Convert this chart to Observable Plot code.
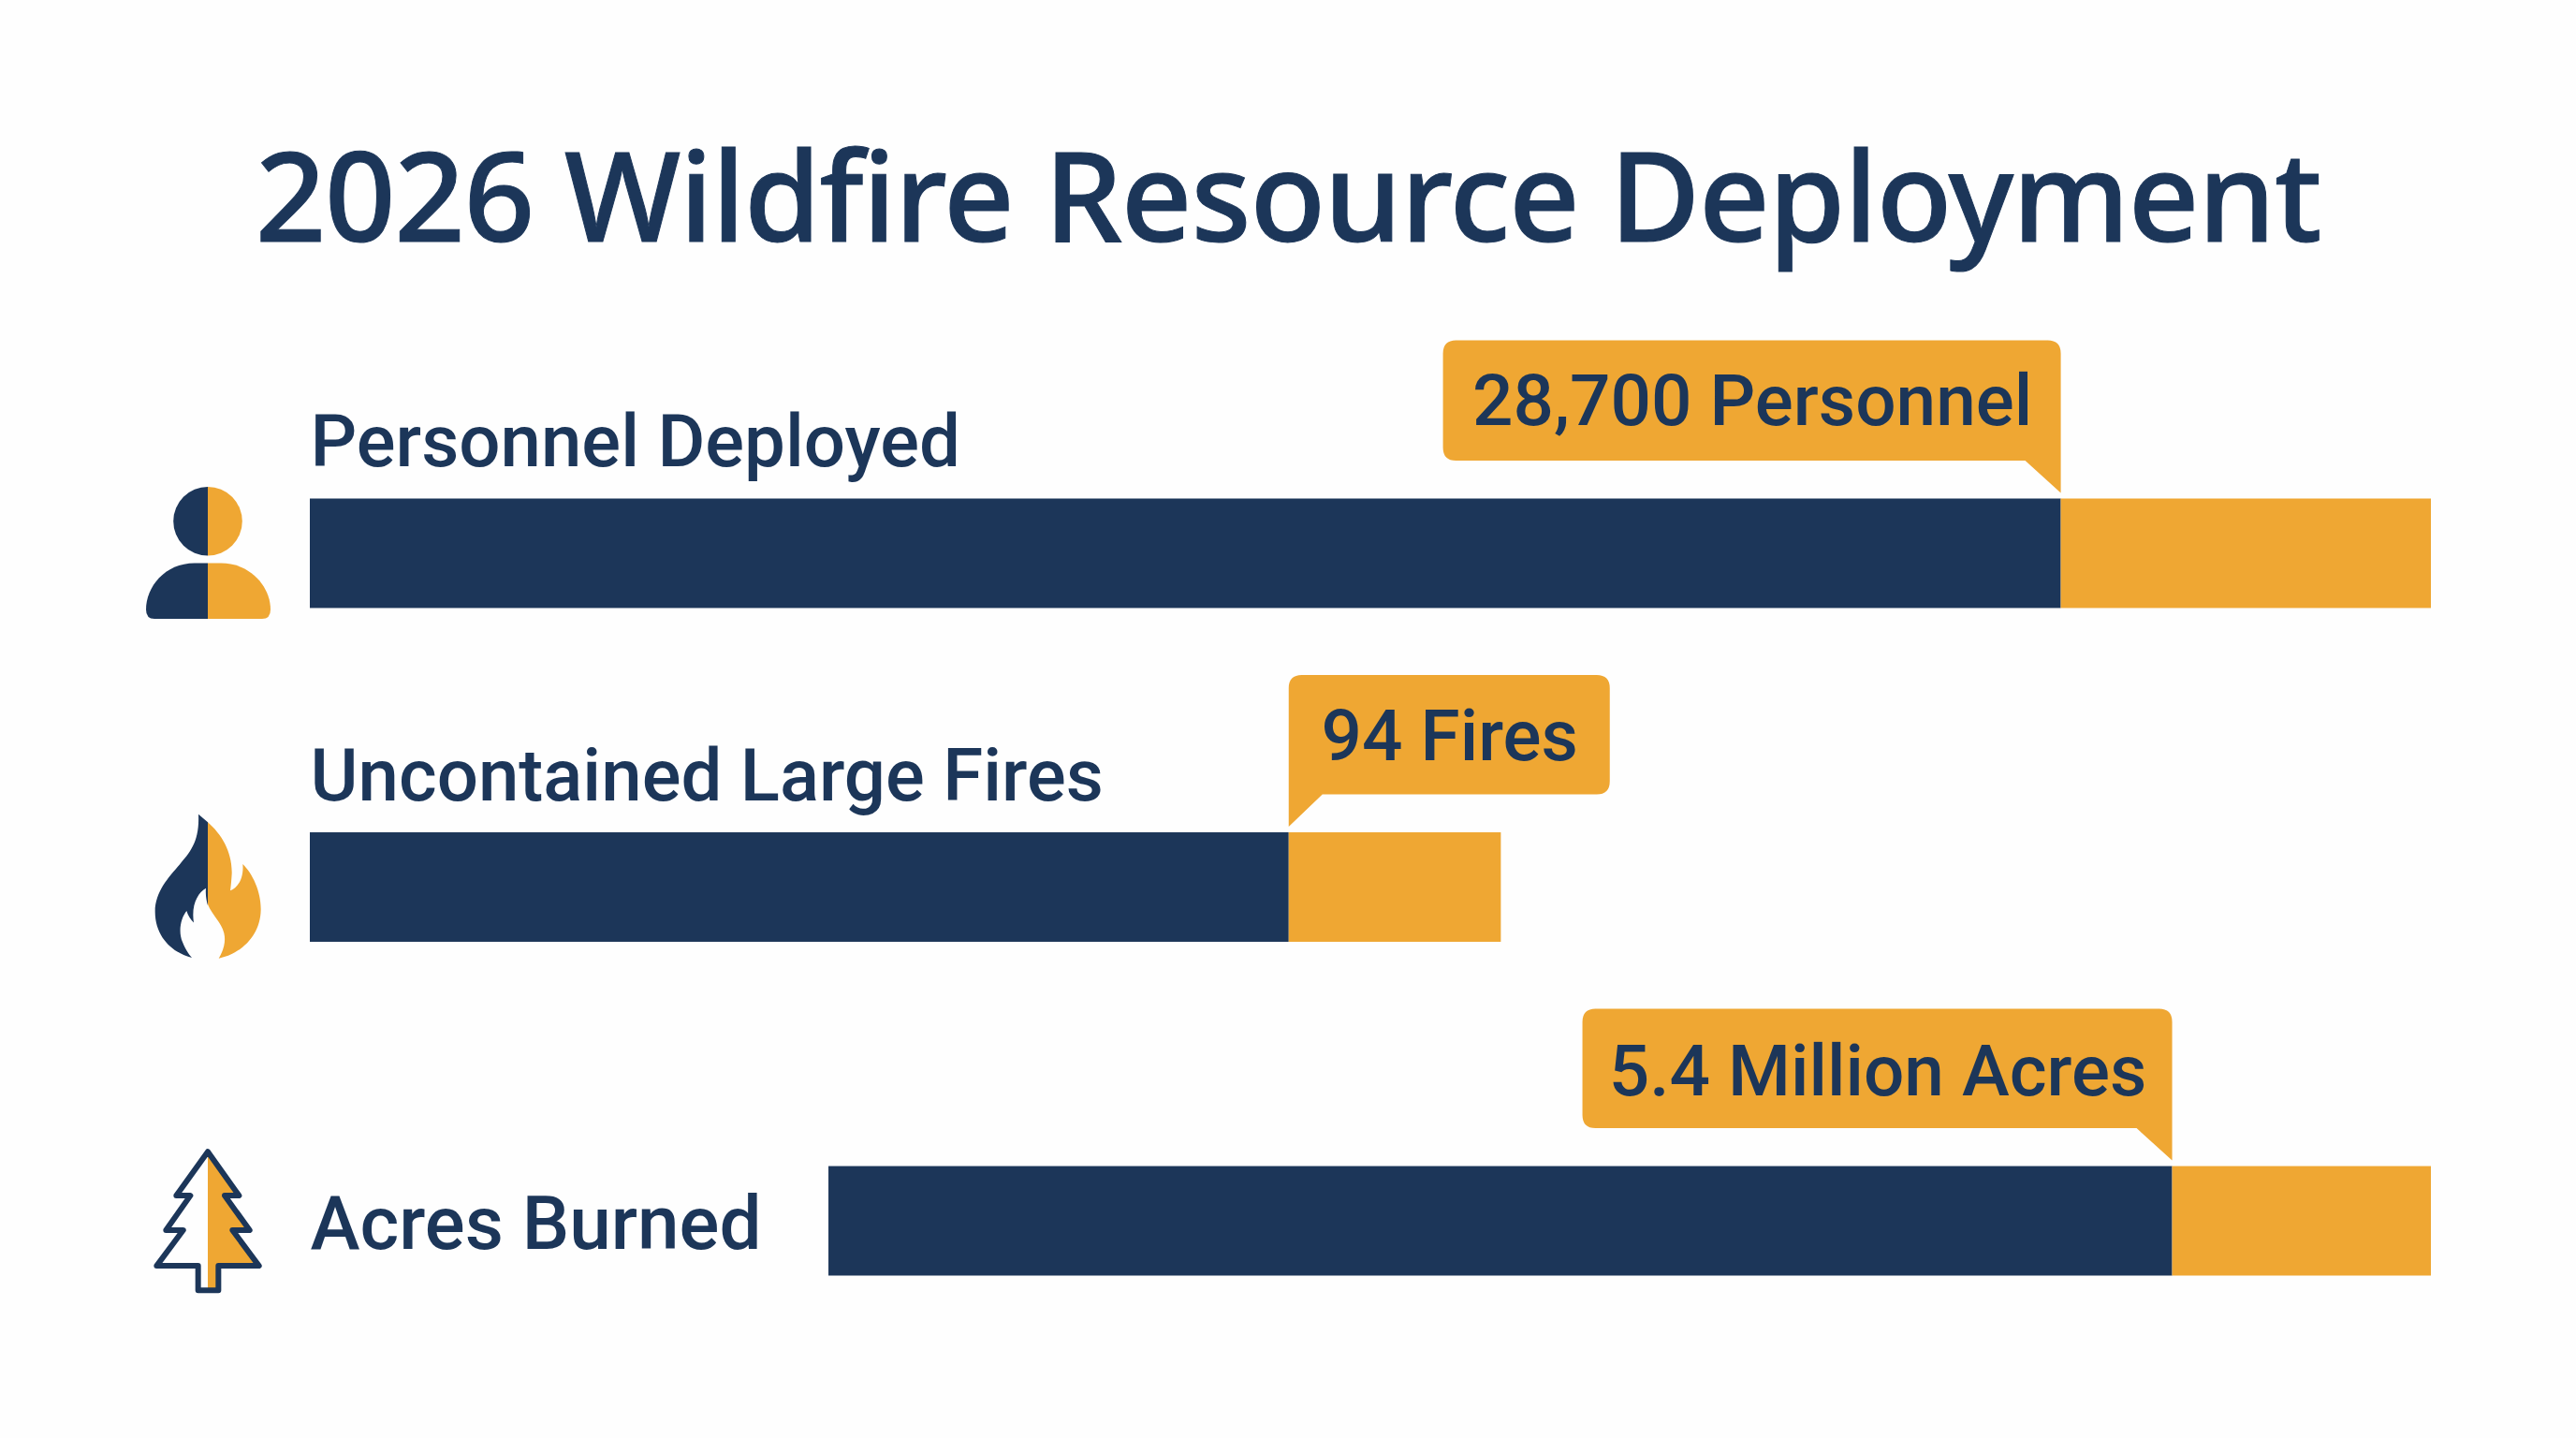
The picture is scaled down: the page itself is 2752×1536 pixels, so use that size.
<!DOCTYPE html>
<html>
<head>
<meta charset="utf-8">
<script src="https://cdn.jsdelivr.net/npm/d3@7"></script>
<script src="https://cdn.jsdelivr.net/npm/@observablehq/plot@0.6"></script>
<style>
  html, body { margin: 0; padding: 0; background: #fefefe; }
  h1 { margin: 0; height: 300px; width: 2752px; box-sizing: border-box; padding-top: 141px; text-align: center;
       font: 500 132px/1 "Noto Sans", sans-serif; letter-spacing: -1.2px; -webkit-text-stroke: 1px #1c3659; color: #1c3659; white-space: nowrap; }
  svg { display: block; }
</style>
</head>
<body>
<h1>2026 Wildfire Resource Deployment</h1>
<div id="chart"></div>
<script>
// Data (bar lengths as % of the longest track)
const categories = ["Personnel Deployed", "Uncontained Large Fires", "Acres Burned"];
const callouts   = ["28,700 Personnel", "94 Fires", "5.4 Million Acres"];
const barStart   = [0, 0, 24.45];
const navyEnd    = [82.55, 46.15, 87.8];
const amberEnd   = [100, 56.15, 100];

const rows = categories.map((c, i) => ({
  category: c, callout: callouts[i], start: barStart[i], navy: navyEnd[i], amber: amberEnd[i]
}));

// Styling and layout (not data)
const NAVY = "#1c3659", AMBER = "#efa733";
const FONT = "Roboto";
const LABEL_SIZES = [78, 78, 80], CALLOUT_SIZE = 76.5;
const BAND_PADDING = 0.672;
const bubbleLayout = [
  {left: 660, right: 0, tail: "end", dy: -162, top: -169},
  {left: 0, right: 343, tail: "start", dy: -160, top: -168},
  {left: 630, right: 0, tail: "end", dy: -159, top: -168}
];
const labelDy = [-118, -118, 4];
const iconCX = 222;

const el = (name, attrs, parent) => {
  const n = document.createElementNS("http://www.w3.org/2000/svg", name);
  for (const k in attrs) n.setAttribute(k, attrs[k]);
  if (parent) parent.appendChild(n);
  return n;
};

function bubblePath(x0, x1, top, bot, tip, side) {
  const r = 14;
  if (side === "end") {
    return `M${x0 + r} ${top}H${x1 - r}Q${x1} ${top} ${x1} ${top + r}V${tip}L${x1 - 38} ${bot}H${x0 + r}Q${x0} ${bot} ${x0} ${bot - r}V${top + r}Q${x0} ${top} ${x0 + r} ${top}Z`;
  }
  return `M${x0 + r} ${top}H${x1 - r}Q${x1} ${top} ${x1} ${top + r}V${bot - r}Q${x1} ${bot} ${x1 - r} ${bot}H${x0 + 36}L${x0} ${tip}V${top + r}Q${x0} ${top} ${x0 + r} ${top}Z`;
}

const bubbles = (index, {x, y}) => {
  const g = el("g", {});
  rows.forEach((d, i) => {
    const X = x(d.navy), T = y(d.category), L = bubbleLayout[i];
    el("path", {
      d: bubblePath(X - L.left, X + L.right, T + L.top, T - 40.5, T - 6, L.tail),
      fill: AMBER
    }, g);
  });
  return g;
};

// Icons drawn in their own local coordinates, centred on each row
const icons = (index, {y}) => {
  const g = el("g", {});
  const barH = (y(categories[1]) - y(categories[0])) * (1 - BAND_PADDING);
  const center = c => y(c) + barH / 2;
  // person
  const p = el("g", {transform: `translate(${iconCX},${center(categories[0])})`}, g);
  el("path", {d: "M0 -71A36.8 36.8 0 0 0 0 2.6Z", fill: NAVY}, p);
  el("path", {d: "M0 -71A36.8 36.8 0 0 1 0 2.6Z", fill: AMBER}, p);
  el("path", {d: "M0 10.5H-14C-46 10.5 -66 36 -66 60Q-66 70 -57 70H0Z", fill: NAVY}, p);
  el("path", {d: "M0 10.5H14C46 10.5 67 36 67 60Q67 70 58 70H0Z", fill: AMBER}, p);
  // flame
  const f = el("g", {transform: `translate(${iconCX},${center(categories[1])}) scale(0.3333,0.3846) translate(-276,-277)`}, g);
  el("path", {d: "M246 75L276 97L276 328C272 315 268 300 270 280C245 292 222 325 231 376C222 368 212 355 208 343C190 362 180 400 195 430C203 448 213 462 225 473C170 462 107 420 107 345C107 290 150 250 185 215C220 180 250 150 246 75Z", fill: NAVY}, f);
  el("path", {d: "M276 97C320 130 355 180 353 240C352 255 350 275 348 287C370 280 392 255 388 213C420 240 447 290 446 340C445 410 385 462 311 475C325 455 335 430 328 405C320 375 290 355 276 325Z", fill: AMBER}, f);
  // tree
  const t = el("g", {transform: `translate(${iconCX},${center(categories[2])}) scale(0.3333,0.3846) translate(-276,-1210)`}, g);
  el("path", {d: "M276 1018L376 1140L330 1140L410 1236L355 1236L440 1335L310 1335L310 1403L276 1403Z", fill: AMBER}, t);
  el("path", {d: "M276 1018L376 1140L330 1140L410 1236L355 1236L440 1335L310 1335L310 1403L245 1403L245 1335L112 1335L197 1236L142 1236L220 1140L175 1140Z",
    fill: "none", stroke: NAVY, "stroke-width": 6, "stroke-linejoin": "round", "vector-effect": "non-scaling-stroke"}, t);
  return g;
};

const labelMarks = rows.map((d, i) => Plot.text([d], {
  x: 0, y: "category", text: "category", textAnchor: "start", dy: labelDy[i],
  fontFamily: FONT, fontWeight: 500, fontSize: LABEL_SIZES[i], fill: NAVY
}));

const calloutMarks = rows.map((d, i) => Plot.text([d], {
  x: "navy", y: "category", text: "callout", textAnchor: "middle",
  dx: (bubbleLayout[i].right - bubbleLayout[i].left) / 2, dy: bubbleLayout[i].dy,
  fontFamily: FONT, fontWeight: 500, fontSize: CALLOUT_SIZE, fill: NAVY
}));

const chart = Plot.plot({
  width: 2752,
  height: 1236,
  marginLeft: 331,
  marginRight: 155,
  marginTop: 0,
  marginBottom: 0,
  style: {background: "transparent", overflow: "visible"},
  x: {domain: [0, 100], axis: null},
  y: {domain: categories, range: [232.5, 1062.5], paddingInner: BAND_PADDING, paddingOuter: 0, round: false, axis: null},
  marks: [
    Plot.barX(rows, {x1: "start", x2: "navy", y: "category", fill: NAVY}),
    Plot.barX(rows, {x1: "navy", x2: "amber", y: "category", fill: AMBER}),
    bubbles,
    ...labelMarks,
    ...calloutMarks,
    icons
  ]
});
document.getElementById("chart").appendChild(chart);
</script>
</body>
</html>
